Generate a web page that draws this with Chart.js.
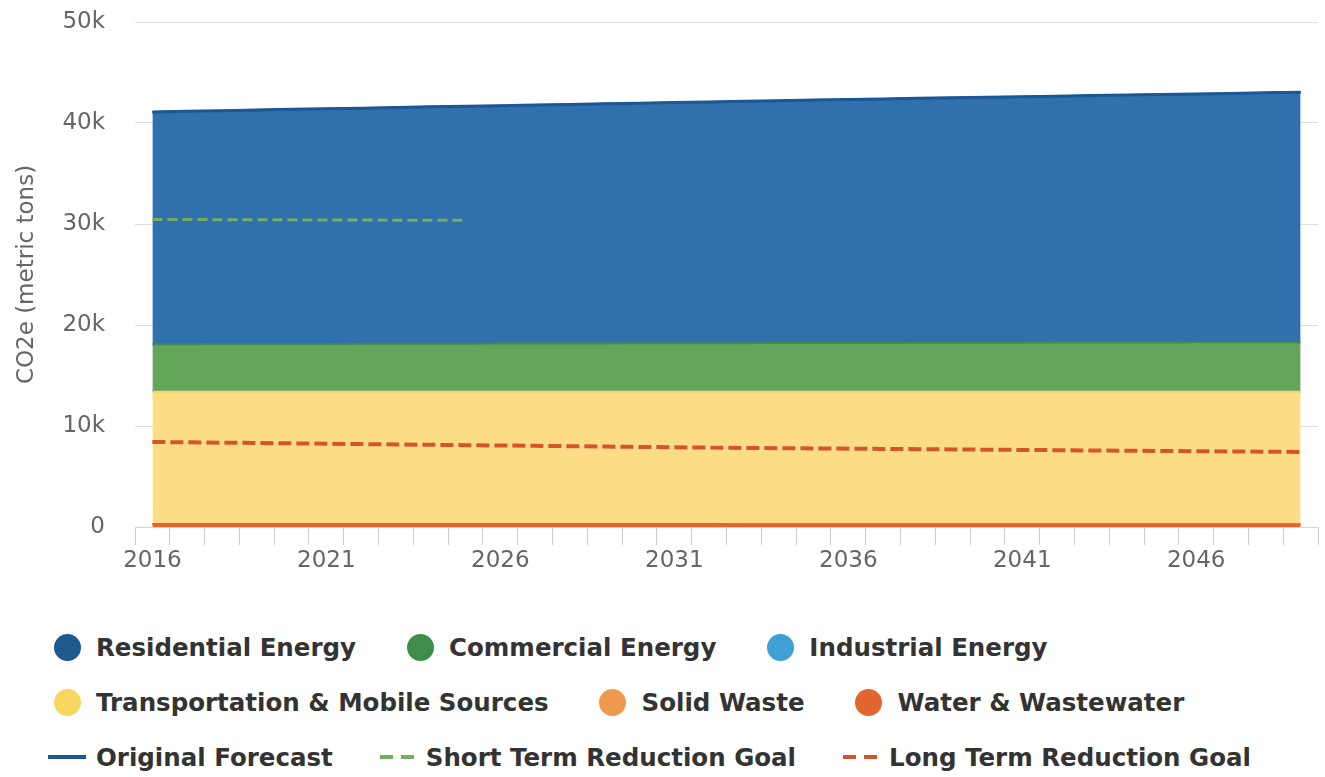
<!DOCTYPE html>
<html>
<head>
<meta charset="utf-8">
<title>CO2e Forecast by Sector</title>
<script src="https://cdn.jsdelivr.net/npm/chart.js@4.4.0/dist/chart.umd.min.js"></script>
<style>
  html, body { margin: 0; padding: 0; background: #fff; }
  #wrap { position: relative; width: 1325px; height: 777px; overflow: hidden; }
  #chart { position: absolute; left: 0; top: 0; }
  #legend { position: absolute; left: 47px; top: 632px; font: bold 24.5px "DejaVu Sans", sans-serif; color: #333; }
  .row { display: flex; align-items: center; height: 30px; margin-bottom: 25px; white-space: nowrap; }
  .item { display: flex; align-items: center; margin-right: 44px; }
  .mark { width: 40px; height: 30px; display: flex; align-items: center; justify-content: center; margin-right: 9px; }
  .dot { width: 27px; height: 27px; border-radius: 50%; }
  .bar { width: 38px; height: 4px; }
  .dash { width: 34px; height: 4px; }
</style>
</head>
<body>
<div id="wrap">
  <canvas id="chart" width="1325" height="590"></canvas>
  <div id="legend"></div>
</div>
<script>
// kategori tahun
const years = ['2016', '2017', '2018', '2019', '2020', '2021', '2022', '2023', '2024', '2025',
    '2026', '2027', '2028', '2029', '2030', '2031', '2032', '2033', '2034', '2035',
    '2036', '2037', '2038', '2039', '2040', '2041', '2042', '2043', '2044', '2045',
    '2046', '2047', '2048', '2049'];

// nilai per sektor (metric tons CO2e)
const residential = [23000, 23055, 23110, 23170, 23225, 23280, 23335, 23385, 23450, 23505,
    23560, 23610, 23665, 23720, 23775, 23840, 23890, 23945, 24000, 24055,
    24110, 24150, 24205, 24260, 24305, 24360, 24400, 24455, 24500, 24555,
    24600, 24640, 24695, 24740];
const commercial = [4710, 4715, 4720, 4730, 4735, 4740, 4745, 4755, 4760, 4765,
    4770, 4780, 4785, 4790, 4795, 4800, 4810, 4815, 4820, 4825,
    4830, 4840, 4845, 4850, 4855, 4860, 4870, 4875, 4880, 4885,
    4890, 4900, 4905, 4910];
const industrial = [0, 0, 0, 0, 0, 0, 0, 0, 0, 0, 0, 0, 0, 0, 0, 0, 0,
    0, 0, 0, 0, 0, 0, 0, 0, 0, 0, 0, 0, 0, 0, 0, 0, 0];
const transportation = [13100, 13100, 13100, 13100, 13100, 13100, 13100, 13100, 13100, 13100,
    13100, 13100, 13100, 13100, 13100, 13100, 13100, 13120, 13120, 13120,
    13120, 13120, 13120, 13120, 13120, 13120, 13120, 13120, 13120, 13120,
    13120, 13120, 13120, 13120];
const solidWaste = [0, 0, 0, 0, 0, 0, 0, 0, 0, 0, 0, 0, 0, 0, 0, 0, 0,
    0, 0, 0, 0, 0, 0, 0, 0, 0, 0, 0, 0, 0, 0, 0, 0, 0];
const waterWastewater = [290, 290, 290, 290, 290, 290, 290, 290, 290, 290,
    290, 290, 290, 290, 290, 290, 290, 270, 270, 270,
    270, 270, 270, 270, 270, 270, 270, 270, 270, 270,
    270, 270, 270, 270];

// garis target
const originalForecast = [41100, 41160, 41220, 41290, 41350, 41410, 41470, 41530, 41600, 41660,
    41720, 41780, 41840, 41900, 41960, 42030, 42090, 42150, 42210, 42270,
    42330, 42380, 42440, 42500, 42550, 42610, 42660, 42720, 42770, 42830,
    42880, 42930, 42990, 43040];
const shortTermGoal = [30450, 30440, 30430, 30420, 30410, 30400, 30390, 30380, 30370, 30360,
    null, null, null, null, null, null, null, null, null, null,
    null, null, null, null, null, null, null, null, null, null,
    null, null, null, null];
const longTermGoal = [8420, 8385, 8350, 8315, 8280, 8245, 8210, 8175, 8140, 8105,
    8070, 8035, 8000, 7965, 7930, 7895, 7860, 7830, 7805, 7780,
    7755, 7730, 7705, 7680, 7655, 7630, 7605, 7580, 7555, 7530,
    7505, 7480, 7455, 7430];

const yTicks = [0, 10000, 20000, 30000, 40000, 50000];

// urutan legenda seperti gambar
const legendRows = [
    ['Residential Energy', 'Commercial Energy', 'Industrial Energy'],
    ['Transportation & Mobile Sources', 'Solid Waste', 'Water & Wastewater'],
    ['Original Forecast', 'Short Term Reduction Goal', 'Long Term Reduction Goal']
];

function area(label, data, line, fill, first) {
    return {
        label, data,
        borderColor: line,
        backgroundColor: fill,
        borderWidth: 2,
        fill: first ? 'origin' : '-1',
        pointRadius: 0,
        stack: 'sectors',
        order: 1
    };
}

function goal(label, data, color, width, dash, key) {
    return {
        label, data,
        borderColor: color,
        backgroundColor: color,
        borderWidth: width,
        borderDash: dash,
        fill: false,
        pointRadius: 0,
        stack: key,
        order: 0
    };
}

// dataset bawah ke atas (stack Chart.js mulai dari index 0)
const datasets = [
    area('Water & Wastewater', waterWastewater, '#e2652f', '#e2652f', true),
    area('Solid Waste', solidWaste, '#ee9a4c', '#f2b070', false),
    area('Transportation & Mobile Sources', transportation, '#f8d660', '#fcdd86', false),
    area('Industrial Energy', industrial, '#3fa0d5', '#62b3df', false),
    area('Commercial Energy', commercial, '#3f8d4b', '#64a55b', false),
    area('Residential Energy', residential, '#1f5a8f', '#2f70ad', false),
    goal('Original Forecast', originalForecast, '#1b5794', 3, [], 'forecast'),
    goal('Short Term Reduction Goal', shortTermGoal, '#72b05e', 3, [10, 5], 'short'),
    goal('Long Term Reduction Goal', longTermGoal, '#d4552a', 4, [13, 5], 'long')
];

const tickFont = { family: 'DejaVu Sans', size: 23 };

const chart = new Chart(document.getElementById('chart').getContext('2d'), {
    type: 'line',
    data: { labels: years, datasets },
    options: {
        responsive: false,
        devicePixelRatio: 1,
        animation: false,
        layout: { padding: { top: 22, right: 7, left: 0, bottom: 0 } },
        elements: { line: { tension: 0 } },
        plugins: {
            legend: { display: false },
            tooltip: { enabled: false }
        },
        scales: {
            x: {
                type: 'category',
                offset: true,
                grid: { offset: true, drawOnChartArea: false, drawTicks: true, tickLength: 18, color: '#c8ced8' },
                border: { display: true, color: '#ccd6eb' },
                ticks: {
                    autoSkip: false,
                    maxRotation: 0,
                    padding: 2,
                    color: '#666',
                    font: tickFont,
                    callback: function (val, i) { return i % 5 === 0 ? this.getLabelForValue(val) : ''; }
                },
                afterFit: scale => { scale.height = 63; }
            },
            y: {
                stacked: true,
                min: yTicks[0],
                max: yTicks[yTicks.length - 1],
                afterBuildTicks: scale => { scale.ticks = yTicks.map(v => ({ value: v })); },
                grid: { color: '#dedede', drawTicks: false },
                border: { display: false },
                ticks: {
                    padding: 30,
                    color: '#666',
                    font: tickFont,
                    callback: v => v === 0 ? '0' : (v / 1000) + 'k'
                },
                title: {
                    display: true,
                    text: 'CO2e (metric tons)',
                    color: '#666',
                    font: tickFont,
                    padding: { top: 13, bottom: 0 }
                },
                afterFit: scale => {
                    scale.width = 135;
                    // padding label jangan mendorong area plot
                    scale.paddingTop = 0;
                    scale.paddingBottom = 0;
                }
            }
        }
    }
});

// legenda HTML
const legendBox = document.getElementById('legend');
legendRows.forEach(names => {
    const row = document.createElement('div');
    row.className = 'row';
    names.forEach(name => {
        const ds = chart.data.datasets.find(d => d.label === name);
        const item = document.createElement('div');
        item.className = 'item';
        const mark = document.createElement('span');
        mark.className = 'mark';
        const sym = document.createElement('span');
        if (ds.fill) {
            sym.className = 'dot';
            sym.style.background = ds.borderColor;
        } else if (ds.borderDash.length) {
            sym.className = 'dash';
            sym.style.background = `repeating-linear-gradient(to right, ${ds.borderColor} 0 13px, transparent 13px 21px)`;
        } else {
            sym.className = 'bar';
            sym.style.background = ds.borderColor;
        }
        mark.appendChild(sym);
        const text = document.createElement('span');
        text.textContent = name;
        item.appendChild(mark);
        item.appendChild(text);
        row.appendChild(item);
    });
    legendBox.appendChild(row);
});
</script>
</body>
</html>
